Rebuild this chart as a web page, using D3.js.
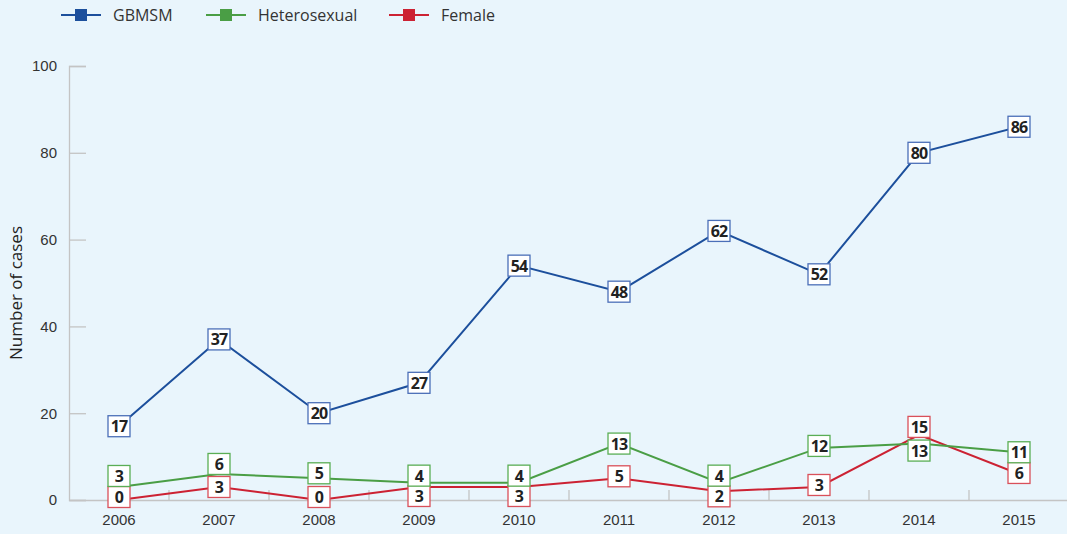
<!DOCTYPE html>
<html>
<head>
<meta charset="utf-8">
<script src="https://cdn.jsdelivr.net/npm/d3@7/dist/d3.min.js"></script>
<style>
  body { margin: 0; background: #e9f5fc; }
  svg { display: block; font-family: "Open Sans", "Noto Sans", sans-serif; }
</style>
</head>
<body>
<script>
// Chart data
var years = [2006, 2007, 2008, 2009, 2010, 2011, 2012, 2013, 2014, 2015];
var gbmsm = [17, 37, 20, 27, 54, 48, 62, 52, 80, 86];
var hetero = [3, 6, 5, 4, 4, 13, 4, 12, 13, 11];
var female = [0, 3, 0, 3, 3, 5, 2, 3, 15, 6];
var yTicks = [0, 20, 40, 60, 80, 100];

// label nudges (pixels) so the boxes do not sit on top of each other
var heteroShift = [-11, -10, -5, -7, -7, 0, -7, -2, 7, 0];
var femaleShift = [-3, 0, -3, 9, 9, -2, 5, -2, -8, -1];

var svgwidth = 1067;
var svgheight = 534;

var margin = { top: 66, right: -2, bottom: 34, left: 69 };
var width = svgwidth - margin.left - margin.right;
var height = svgheight - margin.top - margin.bottom;

var svg = d3.select("body")
            .append("svg")
            .attr("width", svgwidth)
            .attr("height", svgheight);

svg.append("rect")
    .attr("width", svgwidth)
    .attr("height", svgheight)
    .attr("fill", "#e9f5fc");

var chartGroup = svg.append("g")
    .attr("transform", `translate(${margin.left}, ${margin.top})`);

var xScale = d3.scaleBand()
    .domain(years)
    .range([0, width])
    .padding(0);

var yScale = d3.scaleLinear()
    .domain([0, 100])
    .range([height, 0]);

var axisColor = "#c4c4c4";

// y axis
var leftAxis = d3.axisRight(yScale)
    .tickValues(yTicks)
    .tickSize(17)
    .tickFormat(d3.format("d"));

var yAxisG = chartGroup.append("g").call(leftAxis);
yAxisG.select(".domain").attr("stroke", axisColor).attr("stroke-width", 1.3);
yAxisG.selectAll(".tick line").attr("stroke", axisColor).attr("stroke-width", 1.3);
yAxisG.selectAll(".tick text")
    .attr("x", -12)
    .attr("text-anchor", "end")
    .attr("fill", "#333")
    .attr("font-size", "15px");

// x axis
var bottomAxis = d3.axisBottom(xScale).tickSize(0).tickPadding(14);
var xAxisG = chartGroup.append("g")
    .attr("transform", `translate(0, ${height})`)
    .call(bottomAxis);
xAxisG.select(".domain").attr("stroke", axisColor).attr("stroke-width", 1.3);
xAxisG.selectAll(".tick text").attr("fill", "#333").attr("font-size", "15px");

// band boundary ticks on x axis
chartGroup.append("g").selectAll("line")
    .data(years.slice(0, -1))
    .enter()
    .append("line")
    .attr("x1", d => xScale(d) + xScale.bandwidth())
    .attr("x2", d => xScale(d) + xScale.bandwidth())
    .attr("y1", height - 10)
    .attr("y2", height)
    .attr("stroke", axisColor)
    .attr("stroke-width", 1.3);

// y axis title
svg.append("text")
    .attr("transform", "translate(22, 293) rotate(-90)")
    .attr("text-anchor", "middle")
    .attr("fill", "#222")
    .attr("font-size", "17px")
    .text("Number of cases");

var series = [
    { name: "GBMSM", values: gbmsm, color: "#1c4f9c", box: "#4b6fb8", shift: null },
    { name: "Heterosexual", values: hetero, color: "#4a9e45", box: "#5aae55", shift: heteroShift },
    { name: "Female", values: female, color: "#cc2233", box: "#d9505a", shift: femaleShift }
];

var line = d3.line()
    .x((d, i) => xScale(years[i]) + xScale.bandwidth() / 2)
    .y(d => yScale(d));

// lines, drawn bottom series first
series.slice().reverse().forEach(function(s) {
    chartGroup.append("path")
        .datum(s.values)
        .attr("d", line)
        .attr("fill", "none")
        .attr("stroke", s.color)
        .attr("stroke-width", 2);
});

// labels
series.slice().reverse().forEach(function(s) {
    var g = chartGroup.append("g")
        .selectAll("g")
        .data(s.values)
        .enter()
        .append("g")
        .attr("transform", (d, i) => `translate(${xScale(years[i]) + xScale.bandwidth() / 2}, ${yScale(d) + (s.shift ? s.shift[i] : 0)})`);

    g.append("rect")
        .attr("x", -11)
        .attr("y", -10.5)
        .attr("width", 22)
        .attr("height", 21)
        .attr("fill", "#fff")
        .attr("stroke", s.box)
        .attr("stroke-width", 1.3);

    g.append("text")
        .text(d => d)
        .attr("text-anchor", "middle")
        .attr("dy", "0.37em")
        .attr("font-size", "16px")
        .attr("font-weight", "bold")
        .attr("letter-spacing", "-0.8px")
        .attr("fill", "#222");
});

// legend
var legendX = [61, 206, 389];
var legend = svg.append("g").selectAll("g")
    .data(series)
    .enter()
    .append("g")
    .attr("transform", (d, i) => `translate(${legendX[i]}, 15)`);

legend.append("line")
    .attr("x1", 0)
    .attr("x2", 40)
    .attr("stroke", d => d.color)
    .attr("stroke-width", 2);

legend.append("rect")
    .attr("x", 14)
    .attr("y", -6)
    .attr("width", 12)
    .attr("height", 12)
    .attr("fill", d => d.color);

legend.append("text")
    .attr("x", 52)
    .attr("dy", "0.35em")
    .attr("font-size", "16px")
    .attr("fill", "#333")
    .text(d => d.name);
</script>
</body>
</html>
